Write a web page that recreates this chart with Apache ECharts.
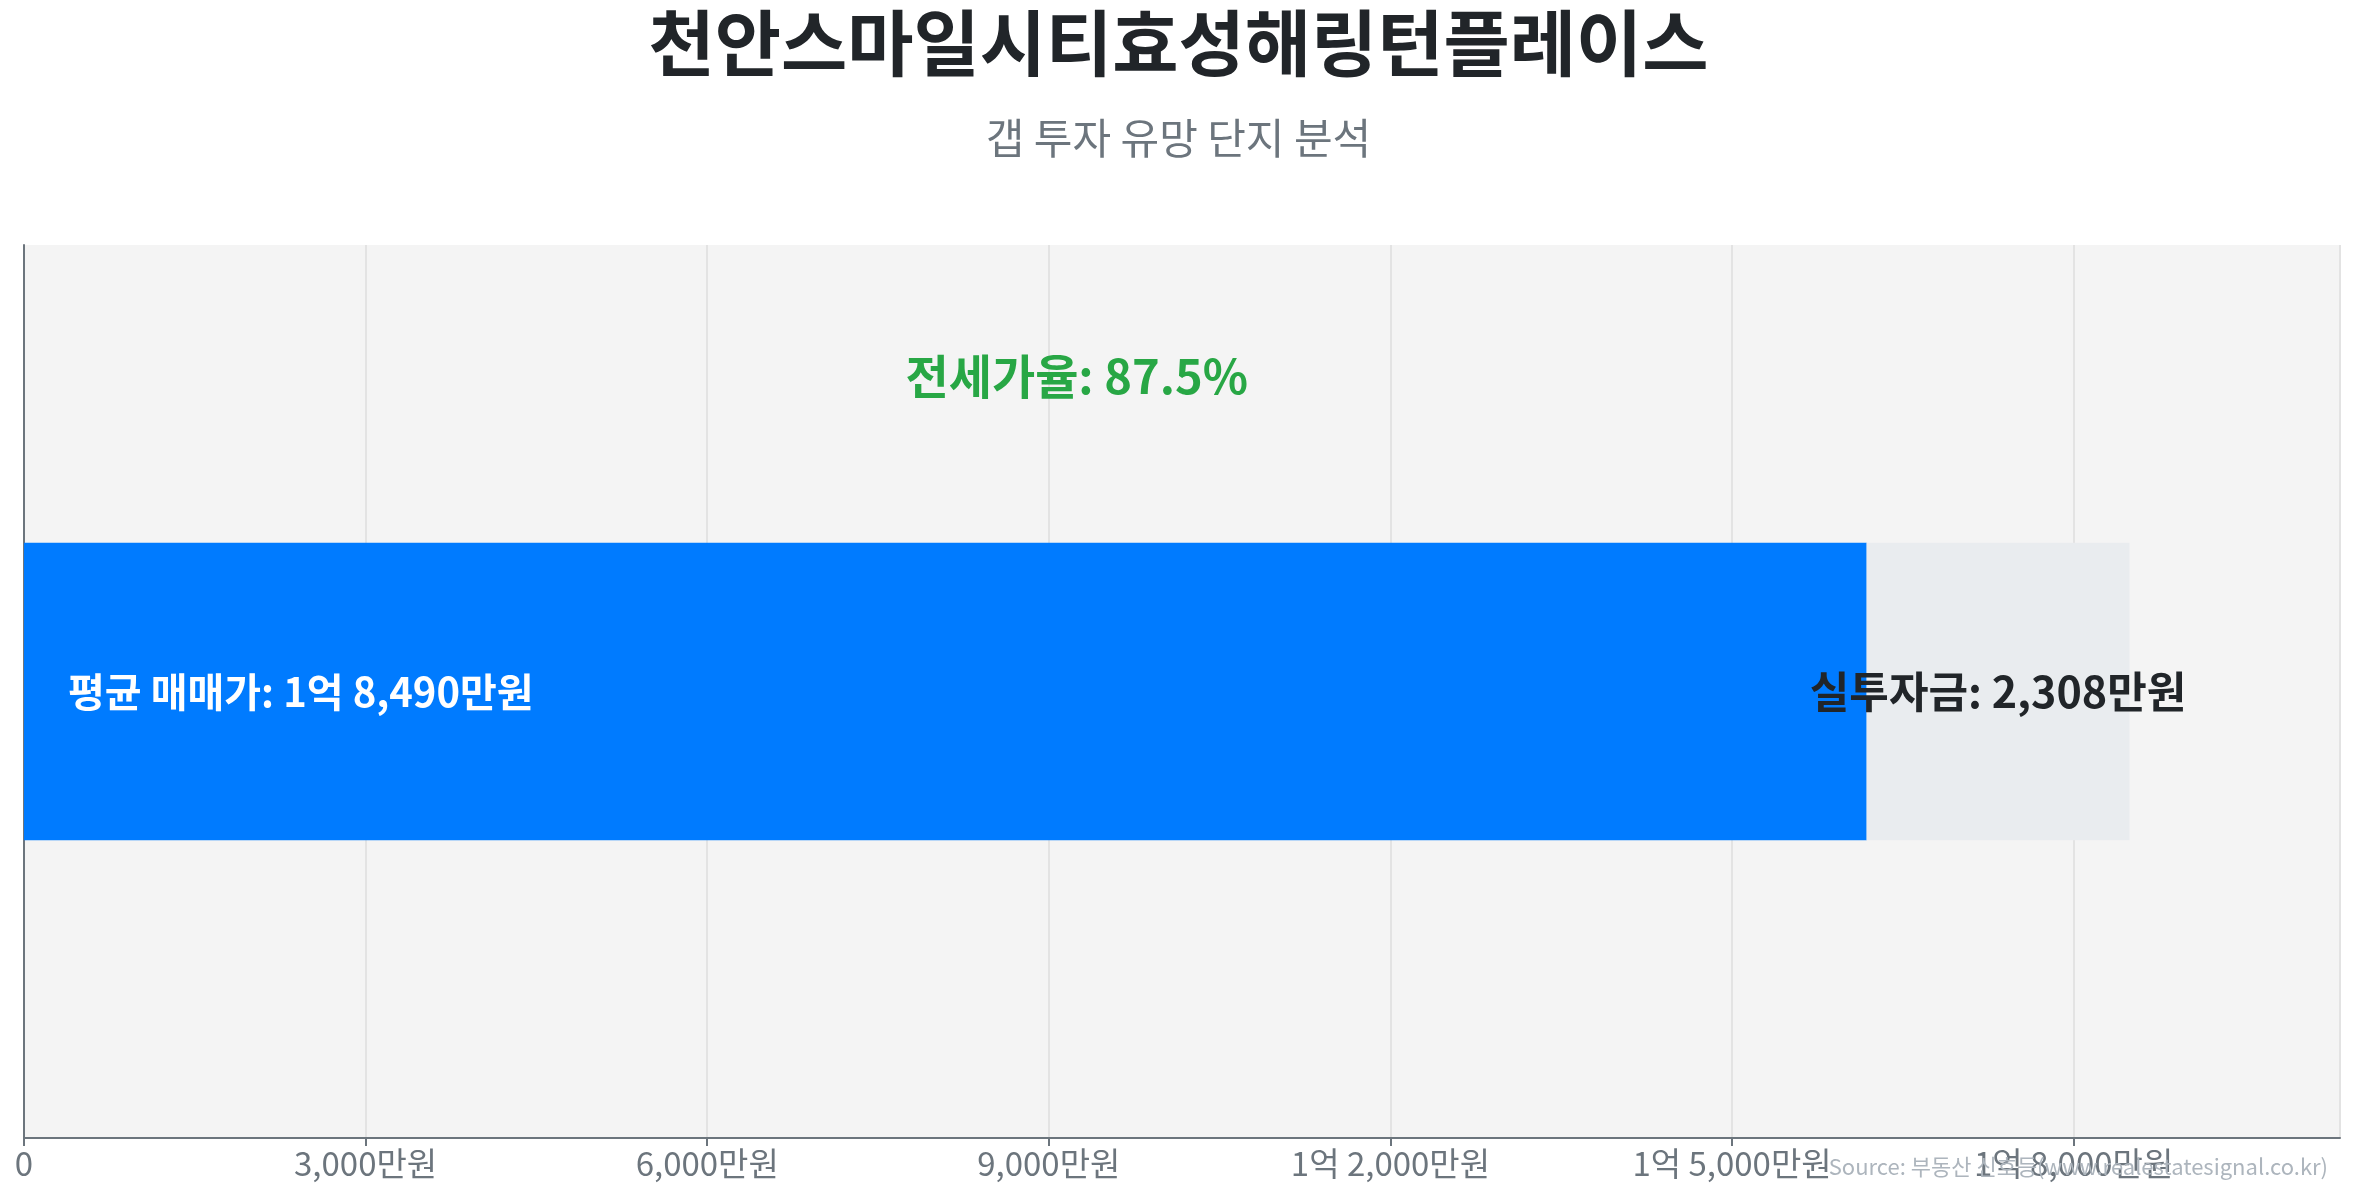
<!DOCTYPE html>
<html>
<head>
<meta charset="utf-8">
<script src="https://cdn.jsdelivr.net/npm/echarts@6/dist/echarts.min.js"></script>
<style>
html,body{margin:0;padding:0;background:#fff;}
#chart{width:2357px;height:1200px;}
</style>
</head>
<body>
<div id="chart"></div>
<script>
const titleText = '천안스마일시티효성해링턴플레이스';
const subtitleText = '갭 투자 유망 단지 분석';
const sourceText = 'Source: 부동산 신호등(www.realestatesignal.co.kr)';
const categories = ['단지'];
const salePrice = [18490];     // 평균 매매가 (만원)
const jeonsePrice = [16182];   // 전세가 (만원)
const gapInvest = [2308];      // 실투자금 (만원)
const jeonseRatio = 87.5;      // 전세가율 (%)
const axisInterval = 3000;

const FONT = '"Noto Sans CJK KR", "Noto Sans", sans-serif';

function fmtMan(v) {
  if (v === 0) return '0';
  const eok = Math.floor(v / 10000);
  const man = v % 10000;
  if (eok > 0) {
    return eok + '억 ' + (man > 0 ? man.toLocaleString('en-US') + '만원' : '');
  }
  return v.toLocaleString('en-US') + '만원';
}

const chart = echarts.init(document.getElementById('chart'));
chart.setOption({
  backgroundColor: '#ffffff',
  animation: false,
  textStyle: { fontFamily: FONT },
  title: [
    {
      text: titleText,
      left: 'center',
      top: 2,
      textStyle: { fontSize: 72, fontWeight: 'bold', color: '#212529', fontFamily: FONT }
    },
    {
      text: subtitleText,
      left: 'center',
      top: 112,
      textStyle: { fontSize: 42, fontWeight: 'normal', color: '#6c757d', fontFamily: FONT }
    },
    {
      text: sourceText,
      right: 24,
      top: 1151,
      textStyle: { fontSize: 22, fontWeight: 'normal', color: '#adb5bd', fontFamily: FONT }
    }
  ],
  grid: {
    left: 24, right: 17, top: 245, bottom: 62,
    show: true, backgroundColor: '#f4f4f4', borderWidth: 0
  },
  xAxis: {
    type: 'value',
    min: 0,
    max: salePrice[0] * 1.1,
    interval: axisInterval,
    axisLine: { show: true, lineStyle: { color: '#6c757d', width: 2 } },
    axisTick: { show: true, length: 8, lineStyle: { color: '#6c757d', width: 2 } },
    splitLine: { show: true, lineStyle: { color: '#e3e3e3', width: 2 } },
    axisLabel: {
      showMaxLabel: false,
      fontSize: 33, color: '#6c757d', margin: 9, fontFamily: FONT,
      formatter: fmtMan
    }
  },
  yAxis: {
    type: 'category',
    data: categories,
    axisLine: { show: true, lineStyle: { color: '#6c757d', width: 2 } },
    axisTick: { show: false },
    axisLabel: { show: false },
    splitLine: { show: false }
  },
  series: [
    {
      name: '전세가',
      type: 'bar',
      stack: 'total',
      barWidth: '33.3%',
      data: jeonsePrice,
      itemStyle: { color: '#007bff' },
      label: {
        show: true,
        position: 'insideLeft',
        distance: 44,
        color: '#ffffff',
        fontSize: 40,
        fontWeight: 'bold',
        fontFamily: FONT,
        formatter: () => '평균 매매가: ' + fmtMan(salePrice[0])
      },
      markPoint: {
        symbol: 'circle',
        symbolSize: 0,
        data: [{ coord: [salePrice[0] / 2, 0] }],
        label: {
          show: true,
          position: 'inside',
          offset: [0, -315],
          color: '#28a745',
          fontSize: 47,
          fontWeight: 'bold',
          fontFamily: FONT,
          formatter: () => '전세가율: ' + jeonseRatio.toFixed(1) + '%'
        }
      }
    },
    {
      name: '실투자금',
      type: 'bar',
      stack: 'total',
      data: gapInvest,
      itemStyle: { color: '#e9ecef' },
      label: {
        show: true,
        position: 'inside',
        color: '#212529',
        fontSize: 43,
        fontWeight: 'bold',
        fontFamily: FONT,
        formatter: (p) => '실투자금: ' + p.value.toLocaleString('en-US') + '만원'
      }
    }
  ]
});
</script>
</body>
</html>
